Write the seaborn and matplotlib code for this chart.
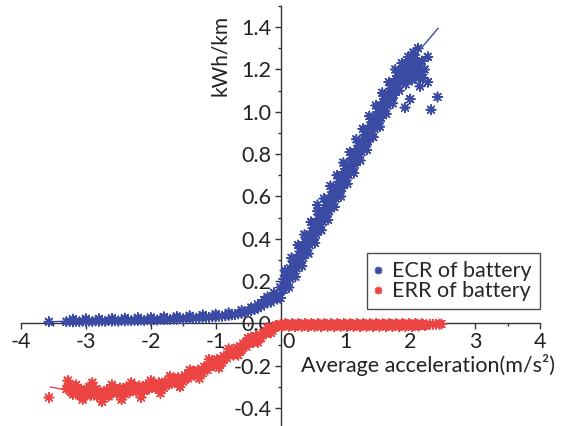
import matplotlib
matplotlib.use("Agg")
import matplotlib.pyplot as plt
import matplotlib.transforms as mtransforms
from matplotlib.ticker import MultipleLocator, FormatStrFormatter
import seaborn as sns
import pandas as pd

# ---------------- data ----------------
ecr_label = "ECR of battery"
err_label = "ERR of battery"

ecr_flat = [(-3.57, 0.008), (-3.30, 0.008), (-3.25, 0.010), (-3.20, 0.007), (-3.15, 0.010),
            (-3.10, 0.008), (-3.05, 0.011), (-3.00, 0.009), (-2.95, 0.011), (-2.90, 0.009),
            (-2.85, 0.012), (-2.80, 0.010), (-2.75, 0.012), (-2.70, 0.010), (-2.65, 0.013),
            (-2.60, 0.011), (-2.55, 0.013), (-2.50, 0.012), (-2.45, 0.014), (-2.40, 0.012),
            (-2.35, 0.015), (-2.30, 0.013), (-2.25, 0.015), (-2.20, 0.014), (-2.15, 0.016),
            (-2.10, 0.014), (-2.05, 0.017), (-2.00, 0.015), (-1.95, 0.018), (-1.90, 0.016),
            (-1.85, 0.019), (-1.80, 0.018), (-1.75, 0.020), (-1.70, 0.019), (-1.65, 0.021),
            (-1.60, 0.020), (-1.55, 0.023), (-1.50, 0.022), (-1.45, 0.024), (-1.40, 0.023),
            (-1.35, 0.026), (-1.30, 0.025), (-1.25, 0.027), (-1.20, 0.027), (-1.15, 0.029),
            (-1.10, 0.029), (-1.05, 0.031), (-1.00, 0.031), (-0.95, 0.034), (-0.90, 0.034),
            (-0.85, 0.036), (-0.80, 0.038), (-0.75, 0.040), (-0.70, 0.042), (-0.65, 0.045),
            (-0.60, 0.048), (-0.55, 0.052), (-0.50, 0.056), (-0.45, 0.060), (-0.40, 0.066),
            (-0.35, 0.072), (-0.30, 0.080), (-0.25, 0.090), (-0.20, 0.100), (-0.15, 0.112),
            (-0.10, 0.125), (-0.05, 0.135), (-0.45, 0.075), (-0.35, 0.090), (-0.25, 0.110),
            (-0.20, 0.125), (-0.15, 0.100), (-0.10, 0.145), (-0.05, 0.115),
            (-3.20, 0.020), (-3.00, 0.022), (-2.80, 0.022), (-2.60, 0.024), (-2.40, 0.025),
            (-2.20, 0.027), (-2.00, 0.028), (-1.80, 0.031), (-1.60, 0.033), (-1.40, 0.036),
            (-1.20, 0.040), (-1.00, 0.044), (-0.80, 0.050), (-0.60, 0.062)]

ecr_rise = [(0.00, 0.12), (0.00, 0.17), (0.05, 0.16), (0.05, 0.21), (0.10, 0.18), (0.10, 0.23),
            (0.15, 0.21), (0.15, 0.26), (0.20, 0.23), (0.20, 0.29), (0.25, 0.26), (0.25, 0.31),
            (0.30, 0.29), (0.30, 0.34), (0.35, 0.31), (0.35, 0.37), (0.40, 0.34), (0.40, 0.40),
            (0.45, 0.37), (0.45, 0.42), (0.50, 0.40), (0.50, 0.45), (0.55, 0.42), (0.55, 0.48),
            (0.60, 0.45), (0.60, 0.51), (0.65, 0.48), (0.65, 0.53), (0.70, 0.51), (0.70, 0.56),
            (0.75, 0.53), (0.75, 0.59), (0.80, 0.56), (0.80, 0.62), (0.85, 0.59), (0.85, 0.64),
            (0.90, 0.62), (0.90, 0.67), (0.95, 0.64), (0.95, 0.70), (1.00, 0.67), (1.00, 0.73),
            (1.05, 0.70), (1.05, 0.75), (1.10, 0.73), (1.10, 0.78), (1.15, 0.75), (1.15, 0.81),
            (1.20, 0.78), (1.20, 0.84), (1.25, 0.81), (1.25, 0.86), (1.30, 0.84), (1.30, 0.89),
            (1.35, 0.86), (1.35, 0.92), (1.40, 0.89), (1.40, 0.95), (1.45, 0.92), (1.45, 0.97),
            (1.50, 0.95), (1.50, 1.00), (1.55, 0.97), (1.55, 1.03), (1.60, 1.00), (1.60, 1.06),
            (1.65, 1.03), (1.65, 1.08), (1.70, 1.06), (1.70, 1.11), (1.75, 1.08), (1.75, 1.14),
            (1.80, 1.11), (1.80, 1.17), (1.85, 1.14), (1.85, 1.19), (1.90, 1.16), (1.90, 1.21),
            (1.95, 1.18), (1.95, 1.23), (2.00, 1.19), (2.00, 1.24), (2.05, 1.20), (2.05, 1.25),
            (2.10, 1.18), (2.10, 1.23), (2.15, 1.21),
            (0.12, 0.22), (0.32, 0.33), (0.52, 0.43), (0.57, 0.56), (0.72, 0.54), (0.92, 0.65),
            (1.12, 0.77), (1.32, 0.86), (1.52, 0.98), (1.72, 1.09), (1.92, 1.18), (2.02, 1.22),
            (0.07, 0.25), (0.13, 0.17), (0.17, 0.31), (0.23, 0.22), (0.27, 0.37), (0.33, 0.27),
            (0.37, 0.42), (0.43, 0.33), (0.47, 0.48), (0.53, 0.38), (0.57, 0.53), (0.63, 0.44),
            (0.67, 0.59), (0.73, 0.49), (0.77, 0.65), (0.83, 0.55), (0.87, 0.70), (0.93, 0.60),
            (0.97, 0.76), (1.03, 0.66), (1.07, 0.81), (1.13, 0.71), (1.17, 0.87), (1.23, 0.77),
            (1.27, 0.92), (1.33, 0.82), (1.37, 0.98), (1.43, 0.88), (1.47, 1.03), (1.53, 0.93),
            (1.57, 1.09), (1.63, 0.99), (1.67, 1.14), (1.73, 1.04), (1.77, 1.20), (1.83, 1.10),
            (1.87, 1.23), (1.93, 1.13), (1.97, 1.26), (2.03, 1.15), (2.07, 1.27), (2.13, 1.16),
            (2.05, 1.28), (2.18, 1.24), (2.22, 1.20), (2.15, 1.12),
            (0.025, 0.16), (0.075, 0.19), (0.125, 0.22), (0.175, 0.25), (0.225, 0.28),
            (0.275, 0.30), (0.325, 0.33), (0.375, 0.36), (0.425, 0.39), (0.475, 0.41),
            (0.525, 0.44), (0.575, 0.47), (0.625, 0.50), (0.675, 0.53), (0.725, 0.55),
            (0.775, 0.58), (0.825, 0.61), (0.875, 0.64), (0.925, 0.66), (0.975, 0.69),
            (1.025, 0.72), (1.075, 0.75), (1.125, 0.77), (1.175, 0.80), (1.225, 0.83),
            (1.275, 0.86), (1.325, 0.89), (1.375, 0.91), (1.425, 0.94), (1.475, 0.97),
            (1.525, 1.00), (1.575, 1.02), (1.625, 1.05), (1.675, 1.08), (1.725, 1.11),
            (1.775, 1.14), (1.825, 1.16), (1.875, 1.19), (1.925, 1.20), (1.975, 1.21),
            (2.025, 1.21), (2.075, 1.22), (2.125, 1.20), (2.175, 1.19)]

ecr_outliers = [(2.12, 1.30), (2.27, 1.26), (2.27, 1.14), (2.42, 1.07), (2.32, 1.01),
                (1.92, 1.02), (2.00, 1.06), (2.20, 1.16)]

err_left = [(-0.05, -0.010), (-0.10, -0.020), (-0.15, -0.030), (-0.20, -0.035), (-0.25, -0.045),
            (-0.30, -0.055), (-0.35, -0.065), (-0.40, -0.070), (-0.45, -0.080), (-0.50, -0.090),
            (-0.55, -0.100), (-0.60, -0.110), (-0.65, -0.120), (-0.70, -0.130), (-0.75, -0.140),
            (-0.80, -0.150), (-0.85, -0.160), (-0.90, -0.170), (-0.95, -0.175), (-1.00, -0.185),
            (-1.05, -0.190), (-1.10, -0.200), (-1.15, -0.210), (-1.20, -0.220), (-1.25, -0.225),
            (-1.30, -0.235), (-1.35, -0.240), (-1.40, -0.250), (-1.45, -0.255), (-1.50, -0.260),
            (-1.55, -0.265), (-1.60, -0.270), (-1.65, -0.275), (-1.70, -0.280), (-1.75, -0.285),
            (-1.80, -0.290), (-1.85, -0.290), (-1.90, -0.295), (-1.95, -0.300), (-2.00, -0.300),
            (-2.05, -0.305), (-2.10, -0.305), (-2.15, -0.310), (-2.20, -0.310), (-2.25, -0.310),
            (-2.30, -0.315), (-2.35, -0.315), (-2.40, -0.315), (-2.45, -0.320), (-2.50, -0.320),
            (-2.55, -0.320), (-2.60, -0.325), (-2.65, -0.325), (-2.70, -0.325), (-2.75, -0.330),
            (-2.80, -0.330), (-2.85, -0.330), (-2.90, -0.325), (-2.95, -0.325), (-3.00, -0.320),
            (-3.05, -0.320), (-3.10, -0.315), (-3.15, -0.315), (-3.20, -0.310), (-3.25, -0.310),
            (-3.30, -0.310), (-3.57, -0.350),
            (-0.15, -0.045), (-0.30, -0.070), (-0.45, -0.065), (-0.60, -0.125), (-0.75, -0.125),
            (-0.90, -0.185), (-1.05, -0.175), (-1.20, -0.235), (-1.35, -0.225), (-1.50, -0.275),
            (-1.65, -0.260), (-1.80, -0.305), (-1.95, -0.285), (-2.10, -0.320), (-2.25, -0.295),
            (-2.40, -0.335), (-2.55, -0.305), (-2.70, -0.345), (-2.85, -0.310), (-3.00, -0.340),
            (-3.15, -0.290), (-3.20, -0.335), (-3.25, -0.290), (-2.95, -0.300), (-2.65, -0.345),
            (-3.10, -0.340),
            (-3.28, -0.270), (-3.05, -0.360), (-2.90, -0.280), (-2.75, -0.370), (-2.60, -0.290),
            (-2.45, -0.360), (-2.30, -0.280), (-2.15, -0.350), (-2.00, -0.270), (-1.85, -0.330),
            (-1.70, -0.250), (-1.55, -0.300), (-1.40, -0.220), (-1.25, -0.260), (-1.10, -0.170),
            (-0.95, -0.210), (-0.80, -0.120), (-0.65, -0.150), (-0.50, -0.070), (-0.35, -0.090),
            (-0.20, -0.020),
            (-3.275, -0.305), (-3.225, -0.325), (-3.175, -0.300), (-3.125, -0.330), (-3.075, -0.310),
            (-3.025, -0.335), (-2.975, -0.315), (-2.925, -0.340), (-2.875, -0.320), (-2.825, -0.345),
            (-2.775, -0.320), (-2.725, -0.340), (-2.675, -0.315), (-2.625, -0.335), (-2.575, -0.310),
            (-2.525, -0.330), (-2.475, -0.305), (-2.425, -0.325), (-2.375, -0.300), (-2.325, -0.325),
            (-2.275, -0.300), (-2.225, -0.320), (-2.175, -0.295), (-2.125, -0.315), (-2.075, -0.290),
            (-2.025, -0.310), (-1.975, -0.285), (-1.925, -0.305), (-1.875, -0.280), (-1.825, -0.300),
            (-1.775, -0.275), (-1.725, -0.290), (-1.675, -0.265), (-1.625, -0.280), (-1.575, -0.255),
            (-1.525, -0.270), (-1.475, -0.245), (-1.425, -0.260), (-1.375, -0.230), (-1.325, -0.245),
            (-1.275, -0.220), (-1.225, -0.235), (-1.175, -0.205), (-1.125, -0.220), (-1.075, -0.190),
            (-1.025, -0.200), (-0.975, -0.170), (-0.925, -0.185), (-0.875, -0.155), (-0.825, -0.165),
            (-0.775, -0.135), (-0.725, -0.150), (-0.675, -0.115), (-0.625, -0.130), (-0.575, -0.095),
            (-0.525, -0.110), (-0.475, -0.075), (-0.425, -0.090), (-0.375, -0.060), (-0.325, -0.070),
            (-0.275, -0.045), (-0.225, -0.050), (-0.175, -0.025), (-0.125, -0.035), (-0.075, -0.010),
            (-0.025, -0.012)]

err_right = [(0.00, -0.004), (0.05, -0.008), (0.10, -0.004), (0.15, -0.008), (0.20, -0.004),
             (0.25, -0.008), (0.30, -0.004), (0.35, -0.008), (0.40, -0.004), (0.45, -0.008),
             (0.50, -0.004), (0.55, -0.008), (0.60, -0.004), (0.65, -0.008), (0.70, -0.004),
             (0.75, -0.008), (0.80, -0.004), (0.85, -0.008), (0.90, -0.004), (0.95, -0.008),
             (1.00, -0.004), (1.05, -0.008), (1.10, -0.004), (1.15, -0.008), (1.20, -0.004),
             (1.25, -0.008), (1.30, -0.004), (1.35, -0.008), (1.40, -0.004), (1.45, -0.008),
             (1.50, -0.004), (1.55, -0.008), (1.60, -0.004), (1.65, -0.008), (1.70, -0.004),
             (1.75, -0.008), (1.80, -0.004), (1.85, -0.008), (1.90, -0.004), (1.95, -0.008),
             (2.00, -0.004), (2.05, -0.008), (2.10, -0.004), (2.15, -0.008), (2.20, -0.004),
             (2.25, -0.006), (2.30, -0.004), (2.35, -0.004), (2.40, -0.004), (2.45, -0.003),
             (2.48, -0.003),
             (0.025, -0.015), (0.075, -0.001), (0.125, -0.015), (0.175, -0.001), (0.225, -0.015),
             (0.275, -0.001), (0.325, -0.015), (0.375, -0.001), (0.425, -0.015), (0.475, -0.001),
             (0.525, -0.015), (0.575, -0.001), (0.625, -0.015), (0.675, -0.001), (0.725, -0.015),
             (0.775, -0.001), (0.825, -0.015), (0.875, -0.001), (0.925, -0.015), (0.975, -0.001),
             (1.025, -0.015), (1.075, -0.001), (1.125, -0.015), (1.175, -0.001), (1.225, -0.015),
             (1.275, -0.001), (1.325, -0.015), (1.375, -0.001), (1.425, -0.015), (1.475, -0.001),
             (1.525, -0.015), (1.575, -0.001), (1.625, -0.015), (1.675, -0.001), (1.725, -0.015),
             (1.775, -0.001), (1.825, -0.015), (1.875, -0.001), (1.925, -0.015), (1.975, -0.001),
             (2.025, -0.015), (2.075, -0.001), (2.125, -0.012), (2.175, -0.002), (2.225, -0.010)]

ecr_fit_x = [-3.57, -1.0, -0.5, -0.2, 0.0, 1.0, 2.0, 2.43]
ecr_fit_y = [0.008, 0.030, 0.056, 0.100, 0.150, 0.710, 1.240, 1.395]
err_fit_x = [-3.55, -3.3, -3.0, -2.5, -2.0, -1.5, -1.0, -0.5, -0.25, 0.0, 2.48]
err_fit_y = [-0.300, -0.315, -0.325, -0.325, -0.305, -0.260, -0.185, -0.090, -0.045, -0.005, -0.005]

x_ticks = [-4, -3, -2, -1, 0, 1, 2, 3, 4]
y_ticks = [-0.4, -0.2, 0.0, 0.2, 0.4, 0.6, 0.8, 1.0, 1.2, 1.4]

blue = "#3b4aa3"
red = "#ec4343"

# ---------------- figure ----------------
sns.set_theme(style="white")
plt.rcParams["font.family"] = ["Lato", "DejaVu Sans"]
plt.rcParams["axes.unicode_minus"] = False

rows = []
for pts, lab in [(ecr_flat, ecr_label), (ecr_rise, ecr_label), (ecr_outliers, ecr_label),
                 (err_left, err_label), (err_right, err_label)]:
    for x, y in pts:
        rows.append({"x": x, "y": y, "series": lab})
df = pd.DataFrame(rows)

fig = plt.figure(figsize=(5.74, 4.26), dpi=100)
ax = fig.add_axes([21 / 574, 1 / 426, 519 / 574, 419 / 426])
ax.set_xlim(-4, 4)
ax.set_ylim(-0.48, 1.5)

# fitted curves
sns.lineplot(x=ecr_fit_x, y=ecr_fit_y, ax=ax, color=blue, lw=1.0, zorder=2, sort=False)
sns.lineplot(x=err_fit_x, y=err_fit_y, ax=ax, color=red, lw=1.0, zorder=2, sort=False)

sns.scatterplot(data=df, x="x", y="y", hue="series", palette={ecr_label: blue, err_label: red},
                marker=(8, 2, 0), s=45, linewidth=1.15, ax=ax, zorder=3, legend=True)

# spines through origin
for side in ["top", "right"]:
    ax.spines[side].set_visible(False)
ax.spines["left"].set_position(("data", 0))
ax.spines["bottom"].set_position(("data", 0))
for side in ["left", "bottom"]:
    ax.spines[side].set_color("#333333")
    ax.spines[side].set_linewidth(1.0)
    ax.spines[side].set_zorder(2.5)

ax.set_xticks(x_ticks)
ax.set_yticks(y_ticks)
ax.xaxis.set_minor_locator(MultipleLocator(0.5))
ax.yaxis.set_minor_locator(MultipleLocator(0.1))
ax.yaxis.set_major_formatter(FormatStrFormatter("%.1f"))
ax.tick_params(axis="both", which="major", direction="out", length=4.5, width=1.0,
               color="#333333", labelsize=15.5, labelcolor="#222222")
ax.tick_params(axis="both", which="minor", direction="out", length=2.5, width=1.0, color="#333333")
ax.tick_params(axis="x", which="major", pad=2)
ax.tick_params(axis="y", which="major", pad=2)
ax.tick_params(left=True, bottom=True, which="both")
ax.set_xlabel("")
ax.set_ylabel("")

# shift the "0" x tick label to the right of the vertical axis
fig.canvas.draw()
for lbl in ax.get_xticklabels():
    if lbl.get_text() == "0":
        lbl.set_transform(lbl.get_transform() +
                          mtransforms.ScaledTranslation(8 / 100, 0, fig.dpi_scale_trans))

fig.text(301 / 574, 1 - 365 / 426, "Average acceleration(m/s²)", ha="left", va="center",
         fontsize=15.5, color="#222222")
fig.text(220 / 574, 1 - 55 / 426, "kWh/km", rotation=90, ha="center", va="center",
         fontsize=15, color="#222222")

handles, labels = ax.get_legend_handles_labels()
leg = ax.legend(handles, labels, loc="upper right", bbox_to_anchor=(540 / 574, 1 - 253 / 426),
                bbox_transform=fig.transFigure, borderaxespad=0, frameon=True, fancybox=False,
                fontsize=15.5, handletextpad=0.5, handlelength=0.3, borderpad=0.38,
                labelspacing=0.0, markerscale=0.8)
leg.get_frame().set_edgecolor("#222222")
leg.get_frame().set_linewidth(1.0)
leg.set_zorder(5)

fig.savefig("out.png", dpi=100)
